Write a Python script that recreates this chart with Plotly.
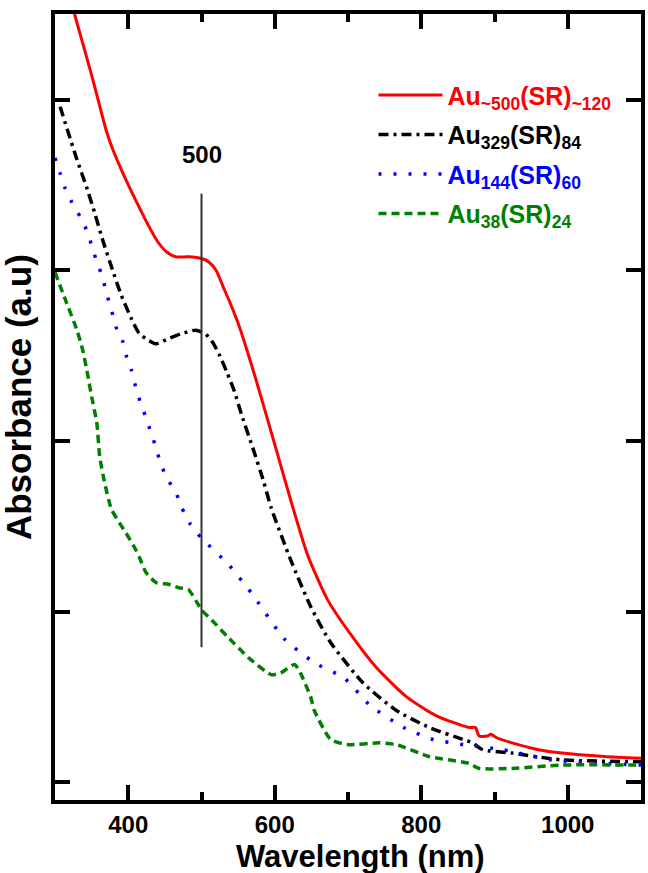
import plotly.graph_objects as go

# ---- data ----
red_x = [320, 327, 338, 351, 370, 378, 397, 415, 428, 440, 452, 465, 482, 500, 510, 520, 530, 540, 550, 573, 600,
         622, 645, 672, 703, 739, 780, 820, 865, 874, 879, 890, 895, 903, 924, 960, 992, 1050, 1100]
red_y = [4.65, 4.50, 4.33, 4.13, 3.82, 3.72, 3.53, 3.37, 3.26, 3.17, 3.11, 3.08, 3.08, 3.07, 3.05, 3.00, 2.90, 2.80,
         2.69, 2.38, 1.98, 1.65, 1.33, 1.07, 0.87, 0.67, 0.50, 0.39, 0.32, 0.32, 0.27, 0.27, 0.28, 0.26, 0.23, 0.19,
         0.17, 0.15, 0.14]

black_x = [307, 318, 330, 343, 354, 365, 378, 390, 404, 415, 428, 438, 455, 473, 492, 505, 515, 525, 535, 545, 555,
           570, 585, 595, 622, 649, 676, 721, 766, 811, 857, 870, 884, 924, 992, 1100]
black_y = [3.96, 3.81, 3.65, 3.49, 3.34, 3.18, 3.01, 2.86, 2.72, 2.63, 2.59, 2.57, 2.60, 2.63, 2.65, 2.63, 2.58, 2.50,
           2.40, 2.29, 2.15, 1.96, 1.76, 1.61, 1.30, 1.03, 0.82, 0.58, 0.42, 0.32, 0.25, 0.23, 0.19, 0.17, 0.13, 0.12]

blue_x = [300, 307, 314, 323, 335, 345, 351, 358, 365, 370, 377, 383, 392, 398, 404, 410, 417, 424, 431, 438, 444,
          453, 465, 473, 485, 500, 536, 568, 613, 654, 695, 730, 776, 816, 857, 911, 978, 1100]
blue_y = [3.66, 3.57, 3.48, 3.40, 3.31, 3.22, 3.13, 3.04, 2.96, 2.87, 2.77, 2.67, 2.59, 2.49, 2.42, 2.32, 2.22, 2.14,
          2.05, 1.96, 1.87, 1.78, 1.70, 1.61, 1.51, 1.43, 1.28, 1.11, 0.84, 0.70, 0.61, 0.45, 0.32, 0.25, 0.22, 0.19,
          0.13, 0.10]

green_x = [300, 314, 330, 338, 345, 350, 357, 361, 368, 377, 388, 397, 408, 415, 424, 438, 455, 469, 482, 493, 500,
           514, 536, 564, 595, 608, 627, 635, 649, 654, 676, 699, 743, 766, 811, 865, 879, 924, 992, 1100]
green_y = [2.99, 2.83, 2.65, 2.53, 2.38, 2.26, 2.11, 1.91, 1.75, 1.60, 1.52, 1.46, 1.38, 1.32, 1.23, 1.17, 1.16, 1.14,
           1.13, 1.06, 1.01, 0.95, 0.85, 0.73, 0.63, 0.64, 0.69, 0.64, 0.50, 0.42, 0.25, 0.22, 0.23, 0.22, 0.15, 0.11,
           0.08, 0.08, 0.10, 0.10]

marker_x = [500, 500]
marker_y = [3.45, 0.79]
marker_label = "500"

names = [
    "<span style='color:#ff0000'>Au<sub>~500</sub>(SR)<sub>~120</sub></span>",
    "<span style='color:#000000'>Au<sub>329</sub>(SR)<sub>84</sub></span>",
    "<span style='color:#0000ff'>Au<sub>144</sub>(SR)<sub>60</sub></span>",
    "<span style='color:#008000'>Au<sub>38</sub>(SR)<sub>24</sub></span>",
]

x_ticks = [400, 600, 800, 1000]
x_minor = [500, 700, 900]
y_ticks = [0, 1, 2, 3, 4]
x_title = "Wavelength (nm)"
y_title = "Absorbance (a.u)"

FONT = "Liberation Sans, Arial, sans-serif"

fig = go.Figure()
fig.add_trace(go.Scatter(x=red_x, y=red_y, mode="lines", name=names[0], legendgroup="a",
                         line=dict(color="#ff0000", width=3, shape="spline", smoothing=0.6)))
fig.add_trace(go.Scatter(x=black_x, y=black_y, mode="lines", name=names[1], legendgroup="b",
                         line=dict(color="#000000", width=3.5, dash="10px,5px,3px,5px",
                                   shape="spline", smoothing=0.6)))
fig.add_trace(go.Scatter(x=blue_x, y=blue_y, mode="lines", name=names[2], legendgroup="c",
                         line=dict(color="#0000ff", width=3.5, dash="3px,12px", shape="spline", smoothing=0.5)))
fig.add_trace(go.Scatter(x=green_x, y=green_y, mode="lines", name=names[3], legendgroup="d",
                         line=dict(color="#008000", width=3.5, dash="8px,5px", shape="spline", smoothing=0.5)))
fig.add_trace(go.Scatter(x=marker_x, y=marker_y, mode="lines", showlegend=False,
                         line=dict(color="#333333", width=2)))

fig.add_annotation(x=marker_x[0], y=3.68, text=marker_label, showarrow=False,
                   font=dict(family=FONT, size=24, color="black", weight="bold"))
fig.add_annotation(xref="paper", yref="paper", x=0.522, y=-0.0725, text=x_title, showarrow=False,
                   xanchor="center", yanchor="middle",
                   font=dict(family=FONT, size=31, color="black", weight="bold"))
fig.add_annotation(xref="paper", yref="paper", x=-0.061, y=0.513, text=y_title, showarrow=False,
                   textangle=-90, xanchor="center", yanchor="middle",
                   font=dict(family=FONT, size=35, color="black", weight="bold"))

fig.update_layout(
    width=648, height=873,
    margin=dict(l=55, r=3, t=14, b=73),
    paper_bgcolor="white", plot_bgcolor="white",
    font=dict(family=FONT, color="black"),
    legend=dict(x=0.5435, y=0.926, xanchor="left", yanchor="top",
                font=dict(family=FONT, size=25, weight="bold"),
                itemwidth=64, tracegroupgap=4, bgcolor="rgba(0,0,0,0)",
                traceorder="grouped"),
)
fig.update_xaxes(range=[300, 1100], showgrid=False, zeroline=False,
                 showline=True, linewidth=4, linecolor="black", mirror="ticks",
                 ticks="inside", ticklen=15, tickwidth=4, tickcolor="black",
                 tickvals=x_ticks, tickfont=dict(family=FONT, size=24, weight="bold"),
                 minor=dict(tickvals=x_minor, ticks="inside", ticklen=8, tickwidth=4, tickcolor="black"))
fig.update_yaxes(range=[-0.105, 4.504], showgrid=False, zeroline=False,
                 showline=True, linewidth=4, linecolor="black", mirror="ticks",
                 ticks="inside", ticklen=15, tickwidth=4, tickcolor="black",
                 tickvals=y_ticks, showticklabels=False)

fig.write_html("out.html", config={"displayModeBar": False},
               post_script="document.body.style.margin='0px';")
